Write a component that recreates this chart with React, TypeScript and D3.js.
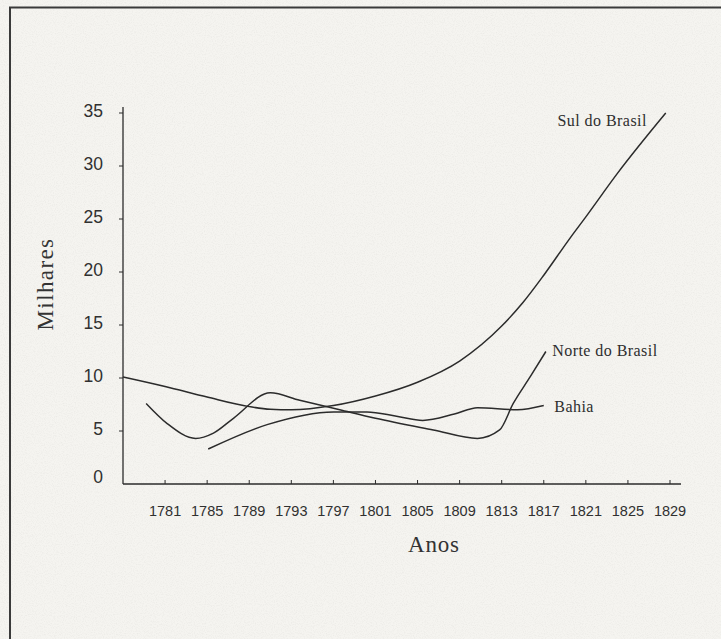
import * as d3 from 'd3'
import { useMemo } from 'react'

// --- data (year, thousands) ---
const sulYears = [1777, 1781, 1785, 1789, 1791, 1793, 1797, 1801, 1805, 1809, 1813, 1815, 1817, 1819.5, 1821, 1824, 1828.6]
const sulValues = [10.1, 9.2, 8.2, 7.3, 7.05, 7.0, 7.4, 8.3, 9.6, 11.6, 14.9, 17.1, 19.7, 23.2, 25.2, 29.3, 35.0]

const norteYears = [1779.2, 1781.2, 1783.9, 1785.6, 1787.5, 1791, 1793.8, 1797.6, 1801, 1806.5, 1810.7, 1812.8, 1814.1, 1815.7, 1817.2]
const norteValues = [7.6, 5.7, 4.3, 4.8, 6.2, 8.6, 7.9, 7.0, 6.2, 5.1, 4.3, 5.1, 7.6, 10.1, 12.5]

const bahiaYears = [1785.1, 1790.7, 1797, 1800.2, 1803, 1805.5, 1808.5, 1810.7, 1814.5, 1817]
const bahiaValues = [3.3, 5.6, 6.8, 6.8, 6.4, 6.0, 6.6, 7.2, 7.0, 7.4]

const yearTicks = [1781, 1785, 1789, 1793, 1797, 1801, 1805, 1809, 1813, 1817, 1821, 1825, 1829]
const valueTicks = [0, 5, 10, 15, 20, 25, 30, 35]

const seriesNames = ['Sul do Brasil', 'Norte do Brasil', 'Bahia']
// label anchors in data units (year, value)
const labelYears = [1818.3, 1817.8, 1818.0]
const labelValues = [33.8, 12.1, 6.8]

const W = 721
const H = 639
const INK = '#2b2b2b'
const SERIF = '"Liberation Serif", "Times New Roman", serif'
const SANS = '"Liberation Sans", Arial, sans-serif'

export default function App() {
  const x = useMemo(() => d3.scaleLinear().domain([1777, 1829]).range([123, 670]), [])
  const y = useMemo(() => d3.scaleLinear().domain([0, 35]).range([484, 113]), [])

  const line = d3
    .line<[number, number]>()
    .x((d) => x(d[0]))
    .y((d) => y(d[1]))
    .curve(d3.curveMonotoneX)

  const series = [
    d3.zip(sulYears, sulValues) as [number, number][],
    d3.zip(norteYears, norteValues) as [number, number][],
    d3.zip(bahiaYears, bahiaValues) as [number, number][],
  ]

  return (
    <svg width={W} height={H} style={{ position: 'absolute', left: 0, top: 0, display: 'block' }}>
      <defs>
        <filter id="paper" x="0" y="0" width="100%" height="100%">
          <feTurbulence type="fractalNoise" baseFrequency="0.9" numOctaves={2} seed={3} result="n" />
          <feColorMatrix
            in="n"
            type="matrix"
            values="0 0 0 0 0.5  0 0 0 0 0.49  0 0 0 0 0.47  0 0 0 -1.8 1.05"
          />
        </filter>
      </defs>
      <rect width={W} height={H} fill="#f5f4f0" />
      <rect width={W} height={H} filter="url(#paper)" opacity={0.18} />

      {/* frame */}
      <path d={`M10,${H} L10,7.5 L${W},7.5`} fill="none" stroke="#3a3a3a" strokeWidth={2} />

      {/* y axis */}
      <line x1={x(1777)} x2={x(1777)} y1={107} y2={y(0)} stroke={INK} strokeWidth={1.3} />
      {valueTicks.map((v) => (
        <g key={v} transform={`translate(${x(1777)},${y(v)})`}>
          {v > 0 && <line x1={-4} x2={0} stroke={INK} strokeWidth={1} />}
          <text
            x={-20}
            dy={v === 0 ? -1 : 4}
            textAnchor="end"
            fontFamily={SANS}
            fontSize={17.5}
            fill="#303030"
          >
            {v}
          </text>
        </g>
      ))}

      {/* x axis */}
      <line x1={x(1777)} x2={681} y1={y(0)} y2={y(0)} stroke={INK} strokeWidth={1.3} />
      {yearTicks.map((t) => (
        <g key={t} transform={`translate(${x(t)},${y(0)})`}>
          <line y1={-4} y2={0} stroke={INK} strokeWidth={1} />
          <text y={32} textAnchor="middle" fontFamily={SANS} fontSize={14.5} fill="#303030">
            {t}
          </text>
        </g>
      ))}

      {/* axis titles */}
      <text x={434} y={552} textAnchor="middle" fontFamily={SERIF} fontSize={23} letterSpacing={0.8} fill="#333">
        Anos
      </text>
      <text
        transform="translate(53,284) rotate(-90)"
        textAnchor="middle"
        fontFamily={SERIF}
        fontSize={23}
        letterSpacing={1.4}
        fill="#333"
      >
        Milhares
      </text>

      {/* series */}
      {series.map((s, i) => (
        <path key={i} d={line(s) ?? ''} fill="none" stroke={INK} strokeWidth={1.5} />
      ))}

      {seriesNames.map((name, i) => (
        <text
          key={name}
          x={x(labelYears[i])}
          y={y(labelValues[i])}
          fontFamily={SERIF}
          fontSize={16}
          letterSpacing={0.45}
          fill="#2e2e2e"
        >
          {name}
        </text>
      ))}
    </svg>
  )
}
